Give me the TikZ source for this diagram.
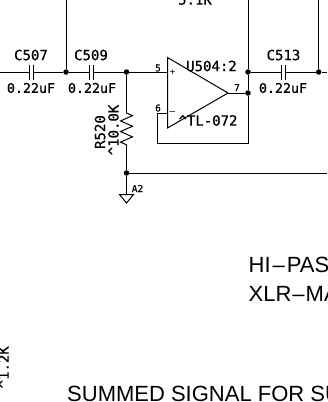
\documentclass[tikz,border=0pt]{standalone}
\usepackage{fontspec}
\setmainfont{Liberation Sans}
\newfontfamily\schemfont[FakeBold=0.6]{DejaVu Sans Mono}
\usetikzlibrary{positioning}
\usetikzlibrary{decorations.pathmorphing}
\tikzset{
  wire/.style={draw, line width=1pt},
  plate/.style={draw, line width=1pt},
  junction/.style={circle, fill, inner sep=0pt, minimum size=5.5pt},
  tag/.style={inner sep=0pt, font=\schemfont\fontsize{14}{14}\selectfont},
  valuetag/.style={inner sep=0pt, font=\schemfont\fontsize{13.3}{13.3}\selectfont},
  pinlabel/.style={inner sep=0pt, font=\schemfont\fontsize{9.5}{9.5}\selectfont},
  title/.style={inner sep=0pt, anchor=west, font=\fontsize{22}{22}\selectfont},
}
\begin{document}
\begin{tikzpicture}[x=1pt, y=-1pt]
      \useasboundingbox (0,0) rectangle (327,402);
      \clip (0,0) rectangle (327,402);
      % Define nodes
      \coordinate (inleft) at (0,72);
      \coordinate (rightend) at (327,72);
      \node[junction] (j1) at (66,72) {};
      \node[junction] (j2) at (126.5,72) {};
      \node[junction] (j3) at (248,72) {};
      \node[junction] (j4) at (318.7,72) {};
      \node[junction] (j5) at (248,93) {};
      \node[junction] (j6) at (126.5,173) {};
      \coordinate (t1) at (66,0);
      \coordinate (t3) at (248,0);
      \coordinate (t4) at (318.7,0);
      \coordinate (c507a) at (29,72);
      \coordinate (c507b) at (33.5,72);
      \coordinate (c509a) at (89,72);
      \coordinate (c509b) at (93.5,72);
      \coordinate (c513a) at (281,72);
      \coordinate (c513b) at (285.5,72);
      \coordinate (oppos) at (167.5,72);
      \coordinate (opneg) at (167.5,113);
      \coordinate (opout) at (228,93);
      \coordinate (pin6) at (157,113);
      \coordinate (fbleft) at (157,143);
      \coordinate (fbright) at (248,143);
      \coordinate (rtop) at (126.5,113);
      \coordinate (rbot) at (126.5,145);
      \coordinate (a2right) at (327,173);
      \coordinate (gnd) at (126.5,194.5);
      % Text
      \node[tag] (c507) at (31,55) {C507};
      \node[tag] (c509) at (91,55) {C509};
      \node[tag] (c513) at (283.5,55) {C513};
      \node[valuetag] (v507) at (31,88) {0.22uF};
      \node[valuetag] (v509) at (92,88) {0.22uF};
      \node[valuetag] (v513) at (283,88) {0.22uF};
      \node[tag] (u504) at (211.5,66) {U504:2};
      \node[tag] (tl072) at (208,120.5) {\^{}TL-072};
      \node[tag, rotate=90] (r520) at (100,132) {R520};
      \node[tag, rotate=90] (v520) at (113.5,130) {\^{}10.0K};
      \node[tag, anchor=south] (v51k) at (195,5) {5.1K};
      \node[tag, rotate=90, anchor=east] (v12k) at (3.5,346) {\^{}1.2K};
      \node[pinlabel] (p5) at (158,68) {5};
      \node[pinlabel] (p6) at (158,108) {6};
      \node[pinlabel] (p7) at (237,87.5) {7};
      \node[pinlabel] (a2) at (137.5,188.5) {A2};
      \node[inner sep=0pt, font=\normalsize] (plus) at (172.5,73) {+};
      \node[inner sep=0pt, font=\normalsize] (minus) at (172.5,113) {--};
      \node[title] (hipass) at (248.5,264.5) {HI\kern2pt--\kern2pt PAS};
      \node[title] (xlr) at (248.5,294) {XLR\kern1pt--\kern1pt MA};
      \node[title] (summed) at (67,394) {SUMMED SIGNAL FOR SU};
      % Connect nodes
      \draw[wire] (inleft) -- (c507a);
      \draw[wire] (c507b) -- (j1);
      \draw[wire] (j1) -- (c509a);
      \draw[wire] (c509b) -- (j2);
      \draw[wire] (j2) -- (oppos);
      \draw[wire] (t1) -- (j1);
      \draw[wire] (j3) -- (c513a);
      \draw[wire] (c513b) -- (j4);
      \draw[wire] (j4) -- (rightend);
      \draw[wire] (t4) -- (j4);
      \draw[wire] (t3) -- (j3) -- (j5) -- (fbright) -- (fbleft) -- (pin6) -- (opneg);
      \draw[wire] (opout) -- (j5);
      \draw[wire] (j2) -- (rtop);
      \draw[wire, decorate, decoration={zigzag, segment length=10.6pt, amplitude=6pt}] (rtop) -- (rbot);
      \draw[wire] (rbot) -- (j6) -- (gnd);
      \draw[wire] (j6) -- (a2right);
      % Symbols
      \draw[wire] (167.5,57.5) -- (opout) -- (167.5,128) -- cycle;
      \draw[plate] (29,64.5) -- (29,80);
      \draw[plate] (33.5,64.5) -- (33.5,80);
      \draw[plate] (89,64.5) -- (89,80);
      \draw[plate] (93.5,64.5) -- (93.5,80);
      \draw[plate] (281,64.5) -- (281,80);
      \draw[plate] (285.5,64.5) -- (285.5,80);
      \draw[wire] (gnd) -- (119.5,194.5) -- (126.5,203) -- (133.5,194.5) -- cycle;
    \end{tikzpicture}
\end{document}
